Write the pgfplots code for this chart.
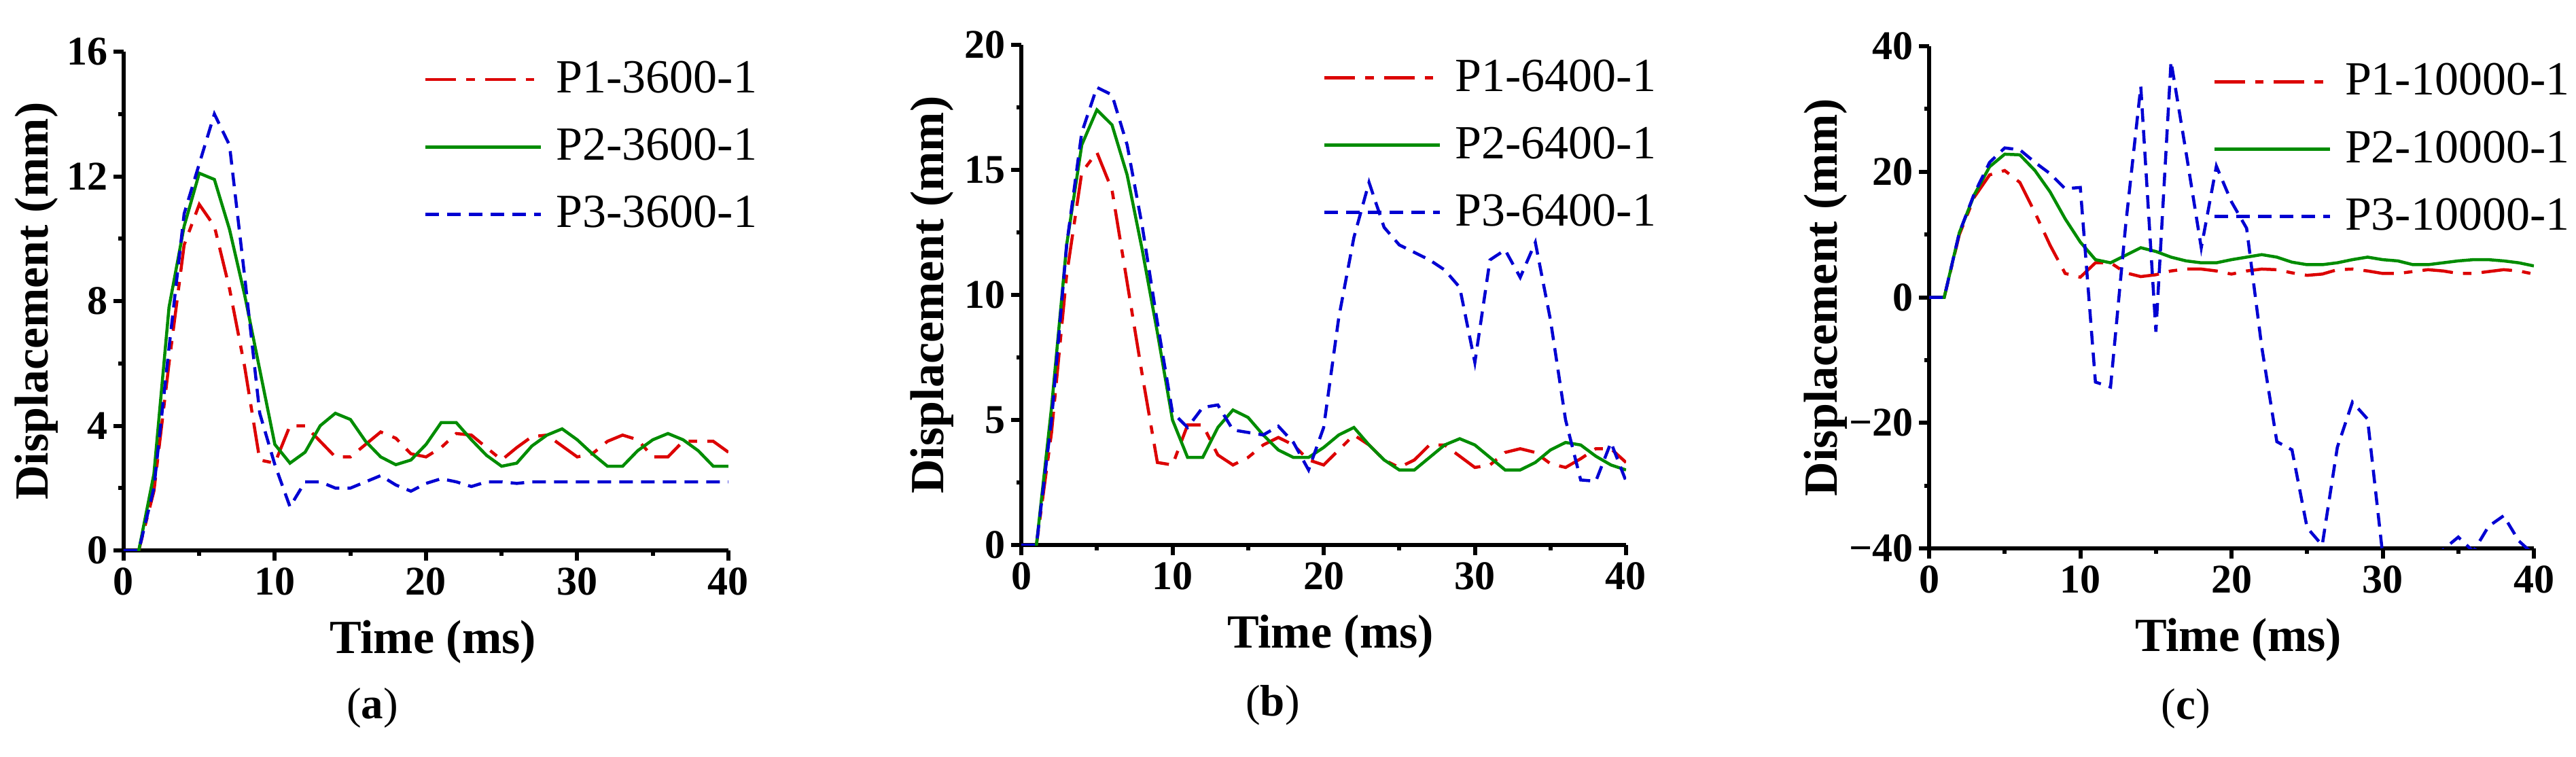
\documentclass[border=0pt]{standalone}
\usepackage{fontspec}
\setmainfont{Liberation Serif}
\usepackage{pgfplots}
\pgfplotsset{compat=1.18}
\definecolor{cred}{RGB}{220,0,0}
\definecolor{cgreen}{RGB}{0,140,0}
\definecolor{cblue}{RGB}{0,0,210}
\pgfplotsset{
  panel/.style={
    scale only axis, width=178pt, height=147pt,
    axis lines=left, axis line style={-, line width=1.2pt},
    xmin=0, xmax=40, xtick={0,10,20,30,40}, minor xtick={5,15,25,35},
    xticklabels={0,10,20,30,40},
    tick align=outside, major tick length=3pt, minor tick length=1.5pt,
    tick style={black, line width=1.2pt},
    tick label style={font=\fontsize{12}{14}\selectfont\bfseries},
    yticklabel style={inner xsep=1.5pt},
    xticklabel style={inner ysep=2pt},
    xlabel={Time (ms)}, ylabel={Displacement (mm)},
    label style={font=\fontsize{14}{16}\selectfont\bfseries},
    xlabel style={at={([xshift=2pt,yshift=-27pt]rel axis cs:0.5,0)}, anchor=center},
    legend style={draw=none, fill=none, font=\fontsize{14}{16}\selectfont,
      anchor=north west, inner sep=0pt, row sep=9pt, nodes={inner sep=0pt},
      /tikz/every odd column/.append style={column sep=4pt}},
    legend cell align=left,
    legend image code/.code={\draw[##1] (0pt,0pt) -- (34pt,0pt);},
  },
  p1/.style={color=cred, line width=0.9pt, dash pattern=on 9pt off 3pt on 2.5pt off 3pt},
  p2/.style={color=cgreen, line width=0.9pt, solid},
  p3/.style={color=cblue, line width=0.9pt, dash pattern=on 4pt off 2.4pt},
}
\begin{document}
\begin{tikzpicture}
\useasboundingbox (0,0) rectangle (758.2pt,222.6pt);
% ---------------- (a)
\begin{axis}[panel, at={(36.4pt,60.6pt)}, anchor=south west, height=146.8pt,
  ymin=0, ymax=16, ytick={0,4,8,12,16}, minor ytick={2,6,10,14},
  yticklabels={0,4,8,12,16},
  ylabel style={at={([xshift=-25.6pt]rel axis cs:0,0.5)}, anchor=center},
  legend style={at={(rel axis cs:0.4955,0.982)}}]
\addplot[p1] coordinates {(0,0)(1,0)(2,1.9)(3,6.0)(4,9.8)(5,11.1)(6,10.4)(7,8.4)(8,5.9)(9,2.9)(10,2.8)(11,4.0)(12,4.0)(13,3.5)(14,3.0)(15,3.0)(16,3.4)(17,3.8)(18,3.6)(19,3.1)(20,3.0)(21,3.3)(22,3.75)(23,3.7)(24,3.3)(25,2.9)(26,3.3)(27,3.65)(28,3.7)(29,3.35)(30,3.0)(31,3.1)(32,3.5)(33,3.7)(34,3.55)(35,3.0)(36,3.0)(37,3.5)(38,3.5)(39,3.5)(40,3.15)};
\addlegendentry{P1-3600-1}
\addplot[p2] coordinates {(0,0)(1,0)(2,2.45)(3,7.8)(4,10.4)(5,12.1)(6,11.9)(7,10.3)(8,8.2)(9,5.8)(10,3.4)(11,2.8)(12,3.15)(13,4.0)(14,4.4)(15,4.2)(16,3.5)(17,3.0)(18,2.75)(19,2.9)(20,3.4)(21,4.1)(22,4.1)(23,3.55)(24,3.05)(25,2.7)(26,2.8)(27,3.35)(28,3.7)(29,3.9)(30,3.55)(31,3.1)(32,2.7)(33,2.7)(34,3.2)(35,3.55)(36,3.75)(37,3.55)(38,3.2)(39,2.7)(40,2.7)};
\addlegendentry{P2-3600-1}
\addplot[p3] coordinates {(0,0)(1,0)(2,2.0)(3,6.5)(4,10.8)(5,12.4)(6,14.0)(7,13.0)(8,8.8)(9,4.4)(10,2.75)(11,1.4)(12,2.2)(13,2.2)(14,2.0)(15,2.0)(16,2.2)(17,2.4)(18,2.1)(19,1.9)(20,2.15)(21,2.3)(22,2.2)(23,2.05)(24,2.2)(25,2.2)(26,2.15)(27,2.2)(28,2.2)(29,2.2)(30,2.2)(31,2.2)(32,2.2)(33,2.2)(34,2.2)(35,2.2)(36,2.2)(37,2.2)(38,2.2)(39,2.2)(40,2.2)};
\addlegendentry{P3-3600-1}
\end{axis}
% ---------------- (b)
\begin{axis}[panel, at={(300.6pt,62.2pt)}, anchor=south west, height=147.2pt,
  ymin=0, ymax=20, ytick={0,5,10,15,20}, minor ytick={2.5,7.5,12.5,17.5},
  yticklabels={0,5,10,15,20},
  ylabel style={at={([xshift=-26.2pt]rel axis cs:0,0.5)}, anchor=center},
  legend style={at={(rel axis cs:0.498,0.972)}}]
\addplot[p1] coordinates {(0,0)(1,0)(2,4.5)(3,10.8)(4,14.9)(5,15.7)(6,14.2)(7,10.5)(8,6.8)(9,3.3)(10,3.2)(11,4.8)(12,4.8)(13,3.6)(14,3.2)(15,3.5)(16,4.0)(17,4.3)(18,4.0)(19,3.4)(20,3.2)(21,3.8)(22,4.4)(23,4.0)(24,3.4)(25,3.1)(26,3.4)(27,4.0)(28,4.0)(29,3.55)(30,3.1)(31,3.2)(32,3.7)(33,3.85)(34,3.7)(35,3.25)(36,3.1)(37,3.45)(38,3.85)(39,3.85)(40,3.3)};
\addlegendentry{P1-6400-1}
\addplot[p2] coordinates {(0,0)(1,0)(2,5.5)(3,12.0)(4,16.0)(5,17.4)(6,16.8)(7,14.8)(8,11.8)(9,8.5)(10,5.0)(11,3.5)(12,3.5)(13,4.7)(14,5.4)(15,5.1)(16,4.4)(17,3.8)(18,3.5)(19,3.5)(20,3.9)(21,4.4)(22,4.7)(23,4.0)(24,3.4)(25,3.0)(26,3.0)(27,3.5)(28,4.0)(29,4.25)(30,4.0)(31,3.5)(32,3.0)(33,3.0)(34,3.3)(35,3.8)(36,4.1)(37,4.0)(38,3.55)(39,3.2)(40,3.0)};
\addlegendentry{P2-6400-1}
\addplot[p3] coordinates {(0,0)(1,0)(2,5.0)(3,12.0)(4,16.5)(5,18.3)(6,18.0)(7,16.0)(8,12.75)(9,8.9)(10,5.3)(11,4.7)(12,5.5)(13,5.6)(14,4.6)(15,4.5)(16,4.4)(17,4.75)(18,4.1)(19,3.0)(20,4.7)(21,9.1)(22,12.3)(23,14.5)(24,12.7)(25,12.0)(26,11.7)(27,11.4)(28,11.0)(29,10.3)(30,7.3)(31,11.4)(32,11.8)(33,10.7)(34,12.1)(35,9.0)(36,5.0)(37,2.6)(38,2.55)(39,4.1)(40,2.55)};
\addlegendentry{P3-6400-1}
\end{axis}
% ---------------- (c)
\begin{axis}[panel, at={(567.8pt,61.2pt)}, anchor=south west, height=147.8pt,
  ymin=-40, ymax=40, ytick={-40,-20,0,20,40}, minor ytick={-30,-10,10,30},
  yticklabels={−40,−20,0,20,40},
  ylabel style={at={([xshift=-30.4pt]rel axis cs:0,0.5)}, anchor=center},
  legend style={at={(rel axis cs:0.468,0.967)}}]
\addplot[p1] coordinates {(0,0)(1,0)(2,10.0)(3,16.0)(4,19.5)(5,20.2)(6,18.3)(7,13.5)(8,8.3)(9,3.8)(10,3.2)(11,5.5)(12,5.5)(13,3.9)(14,3.3)(15,3.6)(16,4.2)(17,4.5)(18,4.5)(19,4.2)(20,3.7)(21,4.2)(22,4.5)(23,4.4)(24,3.9)(25,3.5)(26,3.7)(27,4.4)(28,4.5)(29,4.2)(30,3.8)(31,3.8)(32,4.1)(33,4.4)(34,4.2)(35,3.8)(36,3.8)(37,4.1)(38,4.4)(39,4.2)(40,3.7)};
\addlegendentry{P1-10000-1}
\addplot[p2] coordinates {(0,0)(1,0)(2,10.3)(3,16.4)(4,20.8)(5,22.8)(6,22.7)(7,20.2)(8,16.8)(9,12.5)(10,8.8)(11,6.0)(12,5.5)(13,6.7)(14,7.9)(15,7.3)(16,6.4)(17,5.8)(18,5.5)(19,5.5)(20,6.0)(21,6.4)(22,6.8)(23,6.4)(24,5.6)(25,5.2)(26,5.2)(27,5.5)(28,6.0)(29,6.4)(30,6.0)(31,5.8)(32,5.2)(33,5.2)(34,5.5)(35,5.8)(36,6.0)(37,6.0)(38,5.8)(39,5.5)(40,5.0)};
\addlegendentry{P2-10000-1}
\addplot[p3] coordinates {(0,0)(1,0)(2,10.3)(3,16.6)(4,21.5)(5,23.8)(6,23.5)(7,21.5)(8,19.7)(9,17.3)(10,17.5)(11,-13.5)(12,-14.3)(13,11.5)(14,33.6)(15,-5.5)(16,37.6)(17,23.0)(18,7.9)(19,20.9)(20,15.2)(21,11.0)(22,-7.9)(23,-23.0)(24,-24.3)(25,-36.7)(26,-39.5)(27,-23.9)(28,-16.7)(29,-19.4)(30,-41.0)(31,-50)(32,-50)(33,-48)(34,-40.2)(35,-38.2)(36,-40.5)(37,-36.5)(38,-34.8)(39,-38.8)(40,-41.0)};
\addlegendentry{P3-10000-1}
\end{axis}
% captions
\node[font=\fontsize{13}{15}\selectfont] at (109.6pt,14.2pt) {(\textbf{a})};
\node[font=\fontsize{13}{15}\selectfont] at (374.6pt,15.0pt) {(\textbf{b})};
\node[font=\fontsize{13}{15}\selectfont] at (643.4pt,14.0pt) {(\textbf{c})};
\end{tikzpicture}
\end{document}
